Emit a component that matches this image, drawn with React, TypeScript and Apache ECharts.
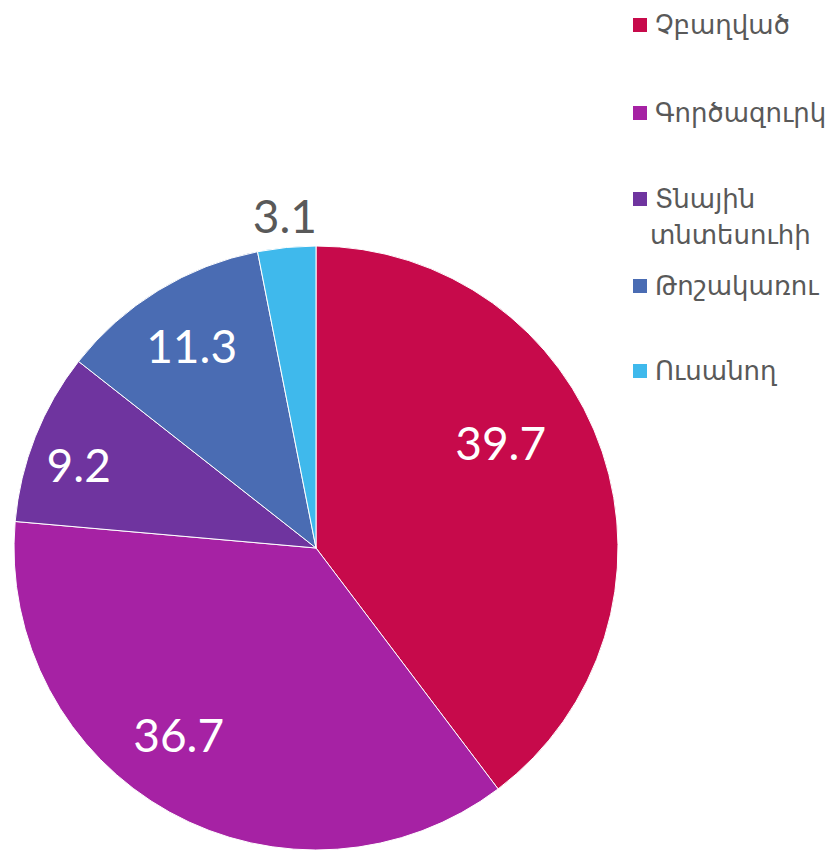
import React, { useEffect, useRef } from "react";
import * as echarts from "echarts";

const categories = ["Չբաղված", "Գործազուրկ", "Տնային տնտեսուհի", "Թոշակառու", "Ուսանող"];
const values = [39.7, 36.7, 9.2, 11.3, 3.1];
const colors = ["#C70A4B", "#A622A4", "#6F349F", "#4A6CB3", "#3FB9EC"];
const legendCenters = [22, 110, 196, 283, 368];

export default function App() {
  const ref = useRef<HTMLDivElement>(null);
  useEffect(() => {
    document.body.style.margin = "0";
    const chart = echarts.init(ref.current!, null, { renderer: "svg" });
    const data = categories.map((name, i) => ({ name, value: values[i] }));
    const labelOffsets: Record<number, number[]> = {
      0: [-41, -30],
      1: [-22, -22],
      2: [-16, 4],
      4: [-8, -96],
    };
    const labelData = categories.map((name, i) => {
      const item: any = { name, value: values[i] };
      if (labelOffsets[i]) item.label = { offset: labelOffsets[i] };
      if (i === 4) item.label.color = "#595959";
      return item;
    });
    const legends = categories.map((name, i) => ({
      show: true,
      data: [name],
      left: 626,
      top: legendCenters[i] - 15,
      orient: "vertical",
      itemWidth: 16,
      itemHeight: 16,
      itemGap: 0,
      icon: "rect",
      selectedMode: false,
      formatter: (n: string) => (n === "Տնային տնտեսուհի" ? "Տնային" : n),
      textStyle: { color: "#595959", fontSize: 26, fontFamily: "DejaVu Sans", padding: [0, 0, 0, 2] },
    }));
    chart.setOption({
      animation: false,
      color: colors,
      legend: legends,
      graphic: [
        {
          type: "text",
          left: 650,
          top: 222,
          style: { text: "տնտեսուհի", fill: "#595959", fontSize: 26, fontFamily: "DejaVu Sans" },
        },
      ],
      series: [
        {
          type: "pie",
          center: [316, 548],
          radius: [0, 302],
          startAngle: 90,
          clockwise: true,
          data,
          label: { show: false },
          labelLine: { show: false },
          itemStyle: { borderColor: "#ffffff", borderWidth: 1 },
          emphasis: { disabled: true },
        },
        {
          type: "pie",
          center: [316, 548],
          radius: [168, 302],
          startAngle: 90,
          clockwise: true,
          silent: true,
          data: labelData,
          itemStyle: { color: "rgba(0,0,0,0)" },
          label: {
            show: true,
            position: "inside",
            color: "#ffffff",
            fontSize: 46,
            fontFamily: "Lato",
            formatter: (p: any) => p.value.toFixed(1),
          },
          labelLine: { show: false },
          emphasis: { disabled: true },
        },
      ],
    });
    return () => chart.dispose();
  }, []);
  return <div ref={ref} style={{ width: 827, height: 850 }} />;
}
